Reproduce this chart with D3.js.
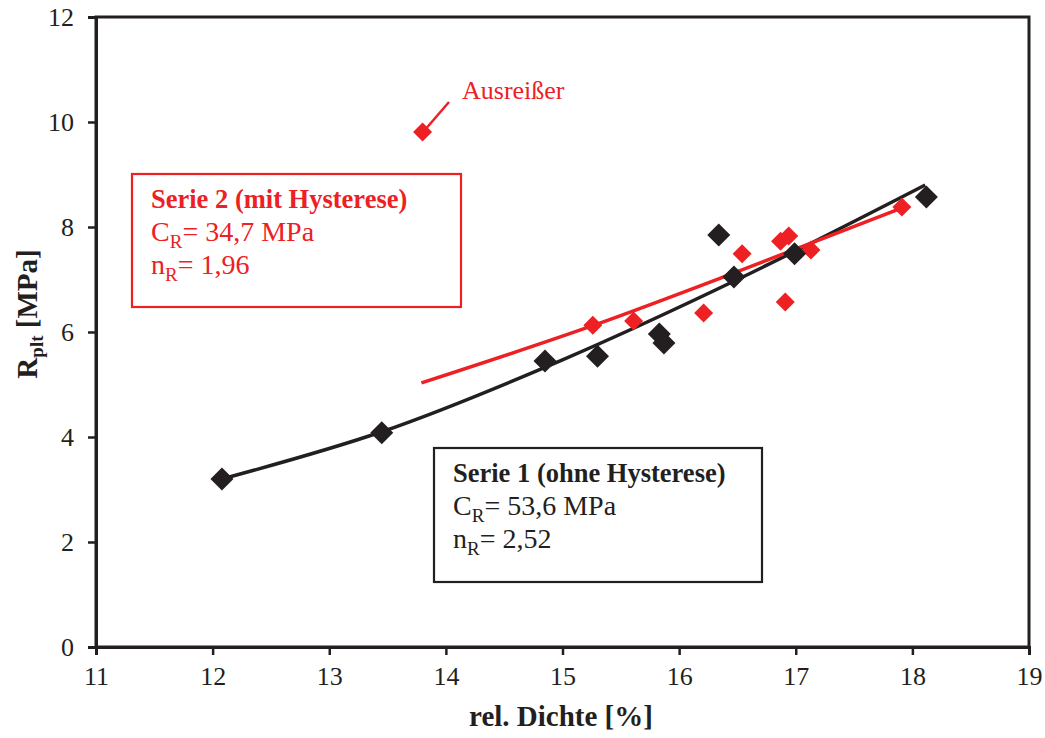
<!DOCTYPE html>
<html><head><meta charset="utf-8">
<script src="https://cdn.jsdelivr.net/npm/d3@7"></script>
<style>body{margin:0;background:#fff}svg{display:block}</style>
</head><body>
<script>
// Data
const serie1X = [12.08, 13.45, 14.85, 15.30, 15.83, 15.87, 16.34, 16.47, 16.99, 18.12];
const serie1Y = [3.20, 4.08, 5.45, 5.54, 5.96, 5.79, 7.85, 7.05, 7.49, 8.57];
const serie2X = [15.26, 15.61, 16.21, 16.54, 16.87, 16.94, 16.91, 17.13, 17.91];
const serie2Y = [6.13, 6.21, 6.36, 7.49, 7.73, 7.83, 6.57, 7.56, 8.38];
const outlier = [13.80, 9.81];
const fit1X = [12.08, 13.45, 15.0, 16.5, 18.11];
const fit1Y = [3.20, 4.10, 5.47, 7.00, 8.80];
const fit2X = [13.79, 15.27, 16.5, 17.87];
const fit2Y = [5.03, 6.13, 7.15, 8.33];
const xTicks = [11, 12, 13, 14, 15, 16, 17, 18, 19];
const yTicks = [0, 2, 4, 6, 8, 10, 12];

const W = 1045, H = 738;
const BLACK = "#231f20", RED = "#ed2024";
const FONT = "'Liberation Serif','Times New Roman',serif";
const svg = d3.select("body").append("svg").attr("width", W).attr("height", H)
  .style("font-family", FONT);

const x = d3.scaleLinear().domain([11, 19]).range([96, 1029]);
const y = d3.scaleLinear().domain([0, 12]).range([647, 17]);

// Frame
svg.append("rect").attr("x", x(11)).attr("y", y(12)).attr("width", x(19) - x(11)).attr("height", y(0) - y(12))
  .attr("fill", "none").attr("stroke", BLACK).attr("stroke-width", 3);

const xa = svg.append("g").attr("transform", `translate(0,${y(0)})`)
  .call(d3.axisBottom(x).tickValues(xTicks).tickSize(8).tickPadding(12).tickFormat(d3.format("d")));
const ya = svg.append("g").attr("transform", `translate(${x(11)},0)`)
  .call(d3.axisLeft(y).tickValues(yTicks).tickSize(8).tickPadding(14).tickFormat(d3.format("d")));
[xa, ya].forEach(a => {
  a.select(".domain").attr("stroke", BLACK).attr("stroke-width", 3);
  a.selectAll(".tick line").attr("stroke", BLACK).attr("stroke-width", 2.5);
  a.selectAll(".tick text").attr("fill", BLACK).style("font-family", FONT).style("font-size", "26px");
});

// Axis titles
svg.append("text").attr("x", 561).attr("y", 726).attr("text-anchor", "middle")
  .attr("font-weight", "bold").attr("font-size", 29).attr("fill", BLACK).text("rel. Dichte [%]");
const yt = svg.append("text").attr("transform", `translate(37,314) rotate(-90)`)
  .attr("text-anchor", "middle").attr("font-weight", "bold").attr("font-size", 29).attr("fill", BLACK);
yt.append("tspan").text("R");
yt.append("tspan").attr("font-size", 19).attr("dy", 6).text("plt");
yt.append("tspan").attr("dy", -6).text(" [MPa]");

// Fit lines
const line = d3.line().x(d => x(d[0])).y(d => y(d[1])).curve(d3.curveMonotoneX);
svg.append("path").datum(d3.zip(fit1X, fit1Y)).attr("d", line)
  .attr("fill", "none").attr("stroke", BLACK).attr("stroke-width", 3.5);
svg.append("path").datum(d3.zip(fit2X, fit2Y)).attr("d", line)
  .attr("fill", "none").attr("stroke", RED).attr("stroke-width", 3.5);

// Markers
const diamond = r => `M0,${-r}L${r},0L0,${r}L${-r},0Z`;
svg.append("g").selectAll("path").data(d3.zip(serie2X, serie2Y).concat([outlier])).join("path")
  .attr("transform", d => `translate(${x(d[0])},${y(d[1])})`).attr("d", diamond(9.5)).attr("fill", RED);
svg.append("g").selectAll("path").data(d3.zip(serie1X, serie1Y)).join("path")
  .attr("transform", d => `translate(${x(d[0])},${y(d[1])})`).attr("d", diamond(11.5)).attr("fill", BLACK);

// Outlier annotation
svg.append("line").attr("x1", 449).attr("y1", 102).attr("x2", x(outlier[0]) + 4).attr("y2", y(outlier[1]) - 4)
  .attr("stroke", RED).attr("stroke-width", 2.5);
svg.append("text").attr("x", 462).attr("y", 99).attr("font-size", 26).attr("fill", RED).text("Ausreißer");

// Text boxes
function box(bx, by, bw, bh, color, lines) {
  svg.append("rect").attr("x", bx).attr("y", by).attr("width", bw).attr("height", bh)
    .attr("fill", "#fff").attr("stroke", color).attr("stroke-width", 2.2);
  lines.forEach((ln, i) => {
    const t = svg.append("text").attr("x", bx + 19).attr("y", by + 34 + i * 33)
      .attr("font-size", 28).attr("fill", color);
    if (ln.bold) { t.attr("font-weight", "bold").attr("font-size", 26.5).text(ln.text); }
    else {
      t.append("tspan").text(ln.a);
      t.append("tspan").attr("font-size", 19).attr("dy", 7).text("R");
      t.append("tspan").attr("dy", -7).text(ln.b);
    }
  });
}
box(132, 174, 329, 133, RED, [
  {bold: true, text: "Serie 2 (mit Hysterese)"},
  {a: "C", b: "= 34,7 MPa"},
  {a: "n", b: "= 1,96"}
]);
box(434, 448, 328, 134, BLACK, [
  {bold: true, text: "Serie 1 (ohne Hysterese)"},
  {a: "C", b: "= 53,6 MPa"},
  {a: "n", b: "= 2,52"}
]);
</script>
</body></html>
